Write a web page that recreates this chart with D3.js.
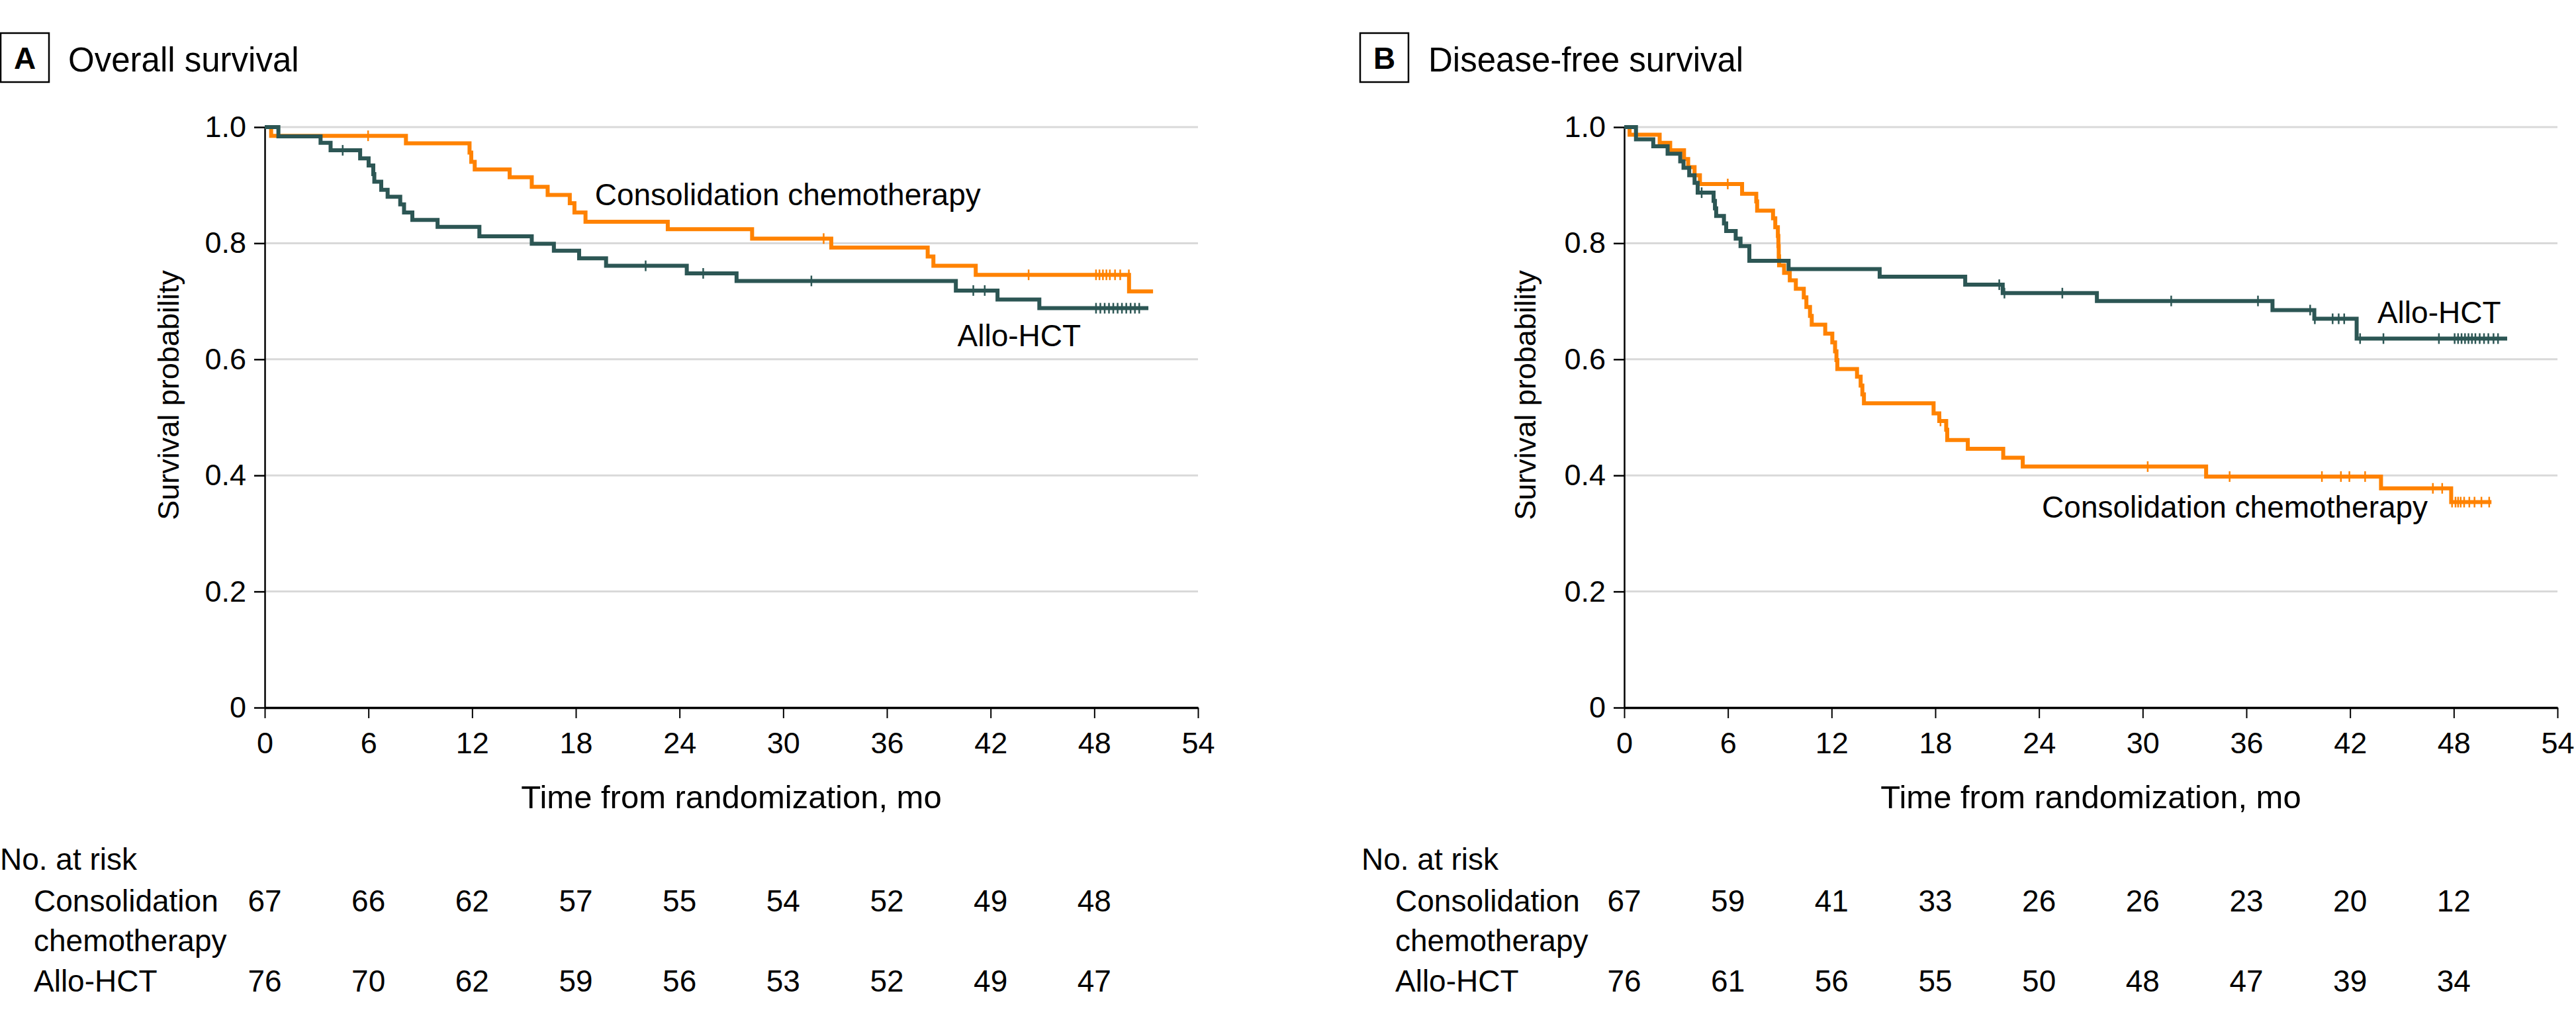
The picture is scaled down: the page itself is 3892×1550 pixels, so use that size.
<!DOCTYPE html>
<html><head><meta charset="utf-8">
<script src="https://cdn.jsdelivr.net/npm/d3@7"></script>
<style>
body{margin:0;background:#fff}
svg{display:block}
</style>
</head><body>
<svg id="chart" width="3892" height="1550"></svg>
<script>
// ---------- data ----------
const timeTicks = [0, 6, 12, 18, 24, 30, 36, 42, 48, 54];
const survTicks = [0, 0.2, 0.4, 0.6, 0.8, 1.0];
const survTickLabels = ["0", "0.2", "0.4", "0.6", "0.8", "1.0"];
const riskTimes = [0, 6, 12, 18, 24, 30, 36, 42, 48];
const groupNames = ["Consolidation chemotherapy", "Allo-HCT"];
const riskLabelLines = [["Consolidation", "chemotherapy"], ["Allo-HCT"]];

// Panel A: overall survival, steps = [month, survival after event]
const osChemoSteps = [[0,1],[0.37,0.985],[8.17,0.972],[11.85,0.956],[11.95,0.940],[12.15,0.927],[14.17,0.9135],[15.45,0.897],[16.37,0.883],[17.65,0.869],[17.92,0.853],[18.56,0.837],[23.32,0.824],[28.2,0.808],[32.78,0.7926],[38.36,0.777],[38.69,0.761],[41.14,0.7455],[50.01,0.717]];
const osChemoEnd = 51.4;
const osChemoCensor = [5.98, 32.34, 44.2, 48.1, 48.3, 48.5, 48.7, 48.9, 49.2, 49.5, 50.0];
const osAlloSteps = [[0,1],[0.79,0.984],[3.23,0.973],[3.81,0.960],[5.52,0.946],[6.01,0.934],[6.28,0.919],[6.34,0.906],[6.74,0.892],[7.11,0.880],[7.84,0.867],[8.06,0.853],[8.54,0.840],[10.0,0.828],[12.42,0.812],[15.45,0.799],[16.73,0.787],[18.19,0.774],[19.75,0.761],[24.42,0.748],[27.3,0.735],[39.99,0.7185],[42.4,0.703],[44.82,0.688]];
const osAlloEnd = 51.13;
const osAlloCensor = [4.51, 22.04, 25.37, 31.63, 41.0, 41.66, 48.1, 48.35, 48.6, 48.85, 49.1, 49.35, 49.6, 49.85, 50.1, 50.35, 50.6];
const osChemoRisk = [67, 66, 62, 57, 55, 54, 52, 49, 48];
const osAlloRisk = [76, 70, 62, 59, 56, 53, 52, 49, 47];

// Panel B: disease-free survival
const dfsChemoSteps = [[0,1],[0.31,0.987],[2.05,0.973],[2.66,0.960],[3.46,0.945],[3.70,0.931],[4.07,0.917],[4.38,0.902],[6.82,0.885],[7.64,0.872],[7.69,0.856],[8.61,0.8428],[8.74,0.8276],[8.89,0.8123],[8.92,0.7949],[8.94,0.7773],[8.96,0.7621],[9.25,0.749],[9.58,0.7359],[9.93,0.7215],[10.39,0.7067],[10.54,0.6901],[10.75,0.6748],[10.85,0.6595],[11.63,0.6442],[12.04,0.629],[12.2,0.6138],[12.28,0.5985],[12.33,0.5832],[13.47,0.5701],[13.68,0.5548],[13.78,0.5396],[13.87,0.5243],[17.9,0.5068],[18.23,0.4937],[18.63,0.4785],[18.69,0.461],[19.88,0.4457],[21.93,0.4304],[23.06,0.4152],[33.67,0.398],[43.79,0.3777],[47.85,0.354]];
const dfsChemoEnd = 50.18;
const dfsChemoCensor = [5.99, 18.3, 30.29, 35.03, 40.37, 41.47, 41.96, 42.87, 46.79, 47.33, 47.9, 48.1, 48.25, 48.4, 48.6, 48.9, 49.2, 49.6, 50.05];
const dfsAlloSteps = [[0,1],[0.68,0.979],[1.68,0.967],[2.51,0.954],[3.24,0.941],[3.43,0.930],[3.76,0.917],[4.07,0.904],[4.25,0.887],[5.17,0.873],[5.25,0.860],[5.32,0.847],[5.77,0.834],[5.90,0.821],[6.45,0.808],[6.73,0.795],[7.24,0.7696],[9.51,0.7555],[14.78,0.7424],[19.73,0.7285],[21.9,0.714],[27.35,0.7005],[37.51,0.6848],[39.93,0.6698],[42.38,0.6357]];
const dfsAlloEnd = 51.09;
const dfsAlloCensor = [4.48, 21.7, 22.0, 25.35, 31.65, 36.67, 39.69, 39.96, 40.99, 41.34, 41.66, 42.58, 43.93, 47.14, 48.05, 48.25, 48.45, 48.65, 48.85, 49.05, 49.25, 49.5, 49.75, 50.0, 50.3, 50.56];
const dfsChemoRisk = [67, 59, 41, 33, 26, 26, 23, 20, 12];
const dfsAlloRisk = [76, 61, 56, 55, 50, 48, 47, 39, 34];

// ---------- font choice: prefer a narrow face if installed ----------
function hasFont(name) {
  const c = document.createElement("canvas").getContext("2d");
  const s = "Consolidation chemotherapy 0123456789";
  c.font = "50px monospace"; const w0 = c.measureText(s).width;
  c.font = `50px "${name}", monospace`; const w1 = c.measureText(s).width;
  return Math.abs(w1 - w0) > 1;
}
const narrow = hasFont("Liberation Sans Narrow");
const FONT = narrow ? '"Liberation Sans Narrow", "Liberation Sans", Arial, sans-serif' : '"Liberation Sans", Arial, sans-serif';
const K = narrow ? 1.17 : 1.0;
const fs = v => (v * K).toFixed(1) + "px";

// ---------- style ----------
const colors = ["#FF8200", "#2C5654"];
const gridColor = "#d9d9d9";

const panels = [
  {letter:"A", title:"Overall survival", left:400, boxX:1, titleX:103, ylabX:270, riskX:0,
   series:[{steps:osChemoSteps,end:osChemoEnd,censor:osChemoCensor,risk:osChemoRisk},
           {steps:osAlloSteps,end:osAlloEnd,censor:osAlloCensor,risk:osAlloRisk}],
   labels:[{t:19.1,s:0.865},{t:40.08,s:0.6226}]},
  {letter:"B", title:"Disease-free survival", left:2454, boxX:2055, titleX:2158, ylabX:2320, riskX:2057,
   series:[{steps:dfsChemoSteps,end:dfsChemoEnd,censor:dfsChemoCensor,risk:dfsChemoRisk},
           {steps:dfsAlloSteps,end:dfsAlloEnd,censor:dfsAlloCensor,risk:dfsAlloRisk}],
   labels:[{t:24.17,s:0.327},{t:43.58,s:0.6625}]}
];

const svg = d3.select("#chart");
const plotW = 1410, yTop = 192, yBot = 1069;

panels.forEach(p => {
  const x = d3.scaleLinear().domain([0, 54]).range([p.left, p.left + plotW]);
  const y = d3.scaleLinear().domain([0, 1]).range([yBot, yTop]);
  const g = svg.append("g");
  const txt = sel => sel.style("font-family", FONT).attr("fill", "#000");

  // title box
  g.append("rect").attr("x", p.boxX).attr("y", 50).attr("width", 73).attr("height", 74)
    .attr("fill", "none").attr("stroke", "#000").attr("stroke-width", 2.5);
  g.append("text").attr("x", p.boxX + 36.5).attr("y", 104).attr("text-anchor", "middle")
    .style("font-size", fs(46)).style("font-weight", "bold").text(p.letter).call(txt);
  g.append("text").attr("x", p.titleX).attr("y", 108).style("font-size", fs(51)).text(p.title).call(txt);

  // gridlines
  g.append("g").selectAll("line").data(survTicks.filter(d => d > 0)).join("line")
    .attr("x1", x(0)).attr("x2", x(54)).attr("y1", d => y(d)).attr("y2", d => y(d))
    .attr("stroke", gridColor).attr("stroke-width", 3);

  // axes
  const yAxis = g.append("g").attr("transform", `translate(${x(0)},0)`)
    .call(d3.axisLeft(y).tickValues(survTicks).tickFormat((d, i) => survTickLabels[i])
      .tickSize(16).tickSizeOuter(0).tickPadding(12));
  yAxis.select(".domain").attr("stroke-width", 2.5);
  yAxis.selectAll(".tick line").attr("stroke-width", 2.5);
  yAxis.selectAll("text").style("font-size", fs(45)).call(txt);

  const xAxis = g.append("g").attr("transform", `translate(0,${yBot})`)
    .call(d3.axisBottom(x).tickValues(timeTicks).tickSize(16).tickSizeOuter(0).tickPadding(narrow ? 17 : 21));
  xAxis.select(".domain").attr("stroke-width", 3.5);
  xAxis.selectAll(".tick line").attr("stroke-width", 2);
  xAxis.selectAll("text").style("font-size", fs(45)).call(txt);

  // axis titles
  g.append("text").attr("transform", `translate(${p.ylabX},${597}) rotate(-90)`)
    .attr("text-anchor", "middle").style("font-size", fs(45)).text("Survival probability").call(txt);
  g.append("text").attr("x", x(27)).attr("y", 1221).attr("text-anchor", "middle")
    .style("font-size", fs(49)).text("Time from randomization, mo").call(txt);

  // curves
  const line = d3.line().x(d => x(d[0])).y(d => y(d[1])).curve(d3.curveStepAfter);
  const stepAt = (steps, t) => { let s = 1; for (const d of steps) { if (d[0] <= t) s = d[1]; } return s; };
  p.series.forEach((sr, i) => {
    const pts = sr.steps.concat([[sr.end, sr.steps[sr.steps.length - 1][1]]]);
    const cg = g.append("g");
    cg.append("path").attr("d", line(pts)).attr("fill", "none")
      .attr("stroke", colors[i]).attr("stroke-width", 6).attr("stroke-linejoin", "miter");
    cg.selectAll("line").data(sr.censor).join("line")
      .attr("x1", d => x(d)).attr("x2", d => x(d))
      .attr("y1", d => y(stepAt(sr.steps, d)) - 8).attr("y2", d => y(stepAt(sr.steps, d)) + 8)
      .attr("stroke", colors[i]).attr("stroke-width", 2.5);
  });

  // curve labels
  p.labels.forEach((l, i) => {
    g.append("text").attr("x", x(l.t)).attr("y", y(l.s)).style("font-size", fs(46)).text(groupNames[i]).call(txt);
  });

  // number at risk
  g.append("text").attr("x", p.riskX).attr("y", 1314).style("font-size", fs(46)).text("No. at risk").call(txt);
  const rowY = [1377, 1498];
  riskLabelLines.forEach((lines, i) => {
    lines.forEach((ln, j) => {
      g.append("text").attr("x", p.riskX + 51).attr("y", rowY[i] + j * 60).style("font-size", fs(46)).text(ln).call(txt);
    });
    g.append("g").selectAll("text").data(p.series[i].risk).join("text")
      .attr("x", (d, k) => x(riskTimes[k])).attr("y", rowY[i]).attr("text-anchor", "middle")
      .style("font-size", fs(46)).text(d => d).call(txt);
  });
});
</script>
</body></html>
